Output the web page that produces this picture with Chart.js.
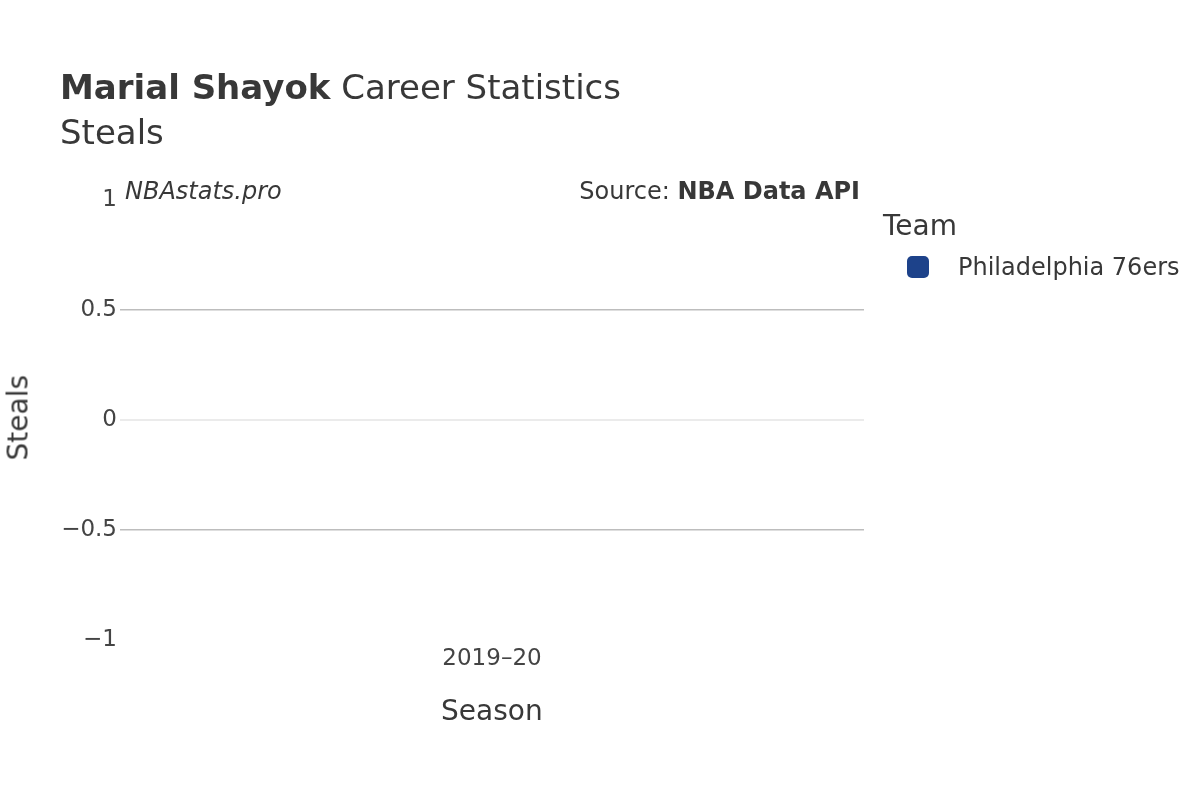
<!DOCTYPE html>
<html>
<head>
<meta charset="utf-8">
<script src="https://cdn.jsdelivr.net/npm/chart.js@4/dist/chart.umd.min.js"></script>
<style>
  html, body { margin: 0; padding: 0; background: #fff; }
  #wrap { position: relative; width: 1200px; height: 800px; font-family: "DejaVu Sans", sans-serif; color: #383838; }
  canvas { position: absolute; left: 0; top: 0; }
  .txt { position: absolute; white-space: nowrap; }
  #legend .sw { display: inline-block; width: 22px; height: 22px; border-radius: 5px; vertical-align: middle; }
</style>
</head>
<body>
<div id="wrap">
  <canvas id="chart" width="1200" height="800"></canvas>
  <div class="txt" style="left:60px; top:67px; font-size:34px;"><b>Marial Shayok</b> Career Statistics</div>
  <div class="txt" style="left:60px; top:112px; font-size:34px;">Steals</div>
  <div class="txt" style="left:125px; top:177px; font-size:24px; font-style:italic;">NBAstats.pro</div>
  <div class="txt" style="right:340px; top:177px; font-size:24px;">Source: <b>NBA Data API</b></div>
  <div class="txt" style="left:441px; top:694px; font-size:28px;">Season</div>
  <div class="txt" style="left:-24px; top:402px; font-size:28px; transform: rotate(-90deg); transform-origin: 50% 50%; width:84px; text-align:center;">Steals</div>
  <div class="txt" style="left:883px; top:209px; font-size:28px;">Team</div>
  <div id="legend" class="txt" style="left:907px; top:252px; font-size:24px;"></div>
</div>
<script>
// Data
const seasons = ['2019–20'];
const teamName = 'Philadelphia 76ers';
const steals = [0];
const teamColor = '#1d428a';
const yTicks = [-1, -0.5, 0, 0.5, 1];

function fmtTick(v) {
    const s = String(Math.abs(v));
    return v < 0 ? '\u2212' + s : s;
}

function gridColor(ctx) {
    const v = ctx.tick ? ctx.tick.value : null;
    if (v === 0) return '#ebebeb';
    if (v === 0.5 || v === -0.5) return '#bdbdbd';
    return 'rgba(0,0,0,0)';
}

const chart = new Chart(document.getElementById('chart').getContext('2d'), {
    type: 'bar',
    data: {
        labels: seasons,
        datasets: [{
            label: teamName,
            data: steals,
            backgroundColor: teamColor,
            borderWidth: 0
        }]
    },
    options: {
        responsive: false,
        devicePixelRatio: 1,
        animation: false,
        layout: { padding: { top: 200, right: 336, left: 0, bottom: 0 } },
        plugins: {
            legend: { display: false },
            tooltip: { enabled: false }
        },
        scales: {
            x: {
                grid: { display: false, drawTicks: false },
                border: { display: false },
                ticks: {
                    color: '#444',
                    font: { family: 'DejaVu Sans', size: 23 },
                    padding: 5
                },
                afterFit: scale => { scale.height = 160; }
            },
            y: {
                min: yTicks[0],
                max: yTicks[yTicks.length - 1],
                afterBuildTicks: scale => { scale.ticks = yTicks.map(v => ({ value: v })); },
                grid: {
                    color: gridColor,
                    lineWidth: ctx => (ctx.tick && ctx.tick.value === 0 ? 2 : 1.5),
                    drawTicks: false
                },
                border: { display: false },
                ticks: {
                    color: '#444',
                    font: { family: 'DejaVu Sans', size: 23 },
                    padding: 3,
                    callback: v => fmtTick(v)
                },
                afterFit: scale => { scale.width = 120; }
            }
        }
    }
});

// legend from the dataset
const ds = chart.data.datasets[0];
document.getElementById('legend').innerHTML =
    '<span class="sw" style="background:' + ds.backgroundColor + '"></span>' +
    '<span style="margin-left:29px; vertical-align:middle;">' + ds.label + '</span>';
</script>
</body>
</html>
